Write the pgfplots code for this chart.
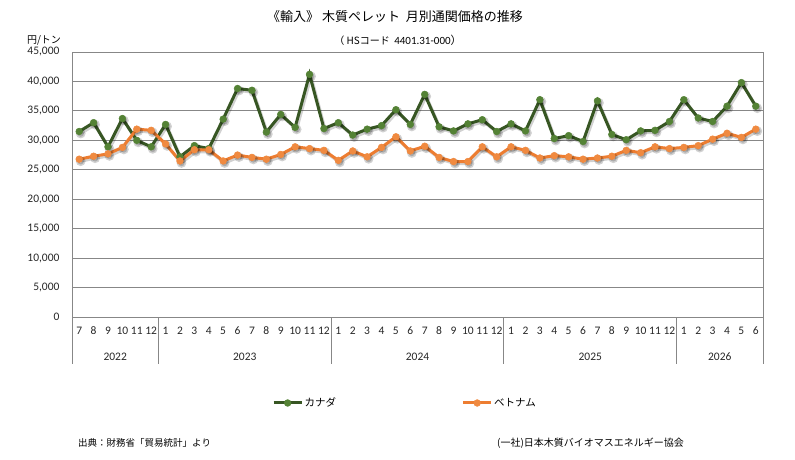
\documentclass[border=0pt]{standalone}
\usepackage{pgfplots}
\pgfplotsset{compat=1.18}
\usepackage{fontspec}
\setmainfont{Carlito}
\newfontfamily\jp{Noto Sans CJK JP}
\definecolor{cgreen}{HTML}{375623}
\definecolor{cgreenm}{HTML}{548235}
\definecolor{corange}{HTML}{ED7D31}
\definecolor{corangem}{HTML}{F08A40}
\definecolor{gridc}{HTML}{878787}

\pgfplotstableread{
x y
0 31500
1 33000
2 28900
3 33700
4 30000
5 28900
6 32700
7 27200
8 29100
9 28600
10 33600
11 38800
12 38500
13 31400
14 34400
15 32200
16 41200
17 32000
18 33000
19 30900
20 31900
21 32500
22 35200
23 32700
24 37800
25 32300
26 31600
27 32800
28 33500
29 31500
30 32800
31 31600
32 36900
33 30300
34 30800
35 29800
36 36700
37 31000
38 30100
39 31600
40 31700
41 33200
42 36900
43 33800
44 33200
45 35800
46 39800
47 35800
}\canada

\pgfplotstableread{
x y
0 26800
1 27300
2 27700
3 28800
4 31900
5 31700
6 29400
7 26500
8 28400
9 28400
10 26500
11 27500
12 27100
13 26800
14 27600
15 28900
16 28600
17 28300
18 26600
19 28200
20 27200
21 28800
22 30600
23 28200
24 29000
25 27100
26 26400
27 26400
28 28900
29 27200
30 28900
31 28300
32 27000
33 27400
34 27200
35 26800
36 27000
37 27300
38 28300
39 27900
40 28900
41 28600
42 28800
43 29100
44 30200
45 31200
46 30500
47 31900
}\vietnam

\begin{document}
\begin{tikzpicture}[x=1pt,y=1pt]
\useasboundingbox (0,0) rectangle (795,459);
\begin{axis}[
  at={(72pt,142pt)}, anchor=south west,
  scale only axis, width=691pt, height=265pt,
  xmin=-0.5, xmax=47.5, ymin=0, ymax=45000,
  xtick={0,...,47},
  xticklabels={7,8,9,10,11,12,1,2,3,4,5,6,7,8,9,10,11,12,1,2,3,4,5,6,7,8,9,10,11,12,1,2,3,4,5,6,7,8,9,10,11,12,1,2,3,4,5,6},
  ytick={0,5000,...,45000},
  scaled y ticks=false,
  /pgf/number format/1000 sep={,},
  /pgf/number format/assume math mode=true,
  major tick length=0pt,
  ymajorgrids,
  grid style={gridc, line width=0.8pt},
  axis line style={gridc, line width=0.8pt},
  tick label style={font=\fontsize{11.5}{13}\selectfont, text=black!85},
  xticklabel style={yshift=-6.5pt},
  yticklabel style={xshift=-9pt},
  clip=false,
  legend columns=2,
  legend style={at={(0.2894,-0.3245)}, anchor=west, draw=none, fill=none,
    inner sep=0pt, font=\jp\fontsize{10.5}{12}\selectfont,
    nodes={inner sep=1.5pt}},
  legend cell align=left,
  legend image code/.code={\draw[mark repeat=2,mark phase=2] plot coordinates {(0pt,0pt) (14pt,0pt) (28pt,0pt)};},
]
% shadows
\addplot[forget plot, draw=black, opacity=0.18, line width=3pt, shift={(1.5pt,-2pt)}, mark=*, mark size=3.3pt, mark options={fill=black, draw=black}] table[x=x,y=y] {\canada};
\addplot[forget plot, draw=black, opacity=0.18, line width=3pt, shift={(1.5pt,-2pt)}, mark=*, mark size=3.3pt, mark options={fill=black, draw=black}] table[x=x,y=y] {\vietnam};
% series
\addplot[cgreen, line width=3pt, mark=*, mark size=3.4pt, mark options={fill=cgreenm, draw=cgreenm, line width=0.5pt}] table[x=x,y=y] {\canada};
\addlegendentry{カナダ\hspace*{124pt}}
\addplot[corange, line width=3pt, mark=*, mark size=3.4pt, mark options={fill=corangem, draw=corangem, line width=0.5pt}] table[x=x,y=y] {\vietnam};
\addlegendentry{ベトナム}
% year separators
\draw[gridc, line width=0.8pt] (axis cs:-0.5,0) -- ([yshift=-47pt]axis cs:-0.5,0);
\draw[gridc, line width=0.8pt] (axis cs:5.5,0) -- ([yshift=-47pt]axis cs:5.5,0);
\draw[gridc, line width=0.8pt] (axis cs:17.5,0) -- ([yshift=-47pt]axis cs:17.5,0);
\draw[gridc, line width=0.8pt] (axis cs:29.5,0) -- ([yshift=-47pt]axis cs:29.5,0);
\draw[gridc, line width=0.8pt] (axis cs:41.5,0) -- ([yshift=-47pt]axis cs:41.5,0);
\draw[gridc, line width=0.8pt] (axis cs:47.5,0) -- ([yshift=-47pt]axis cs:47.5,0);
\node[font=\fontsize{11.5}{13}\selectfont, text=black!85, yshift=-40pt] at (axis cs:2.5,0) {2022};
\node[font=\fontsize{11.5}{13}\selectfont, text=black!85, yshift=-40pt] at (axis cs:11.5,0) {2023};
\node[font=\fontsize{11.5}{13}\selectfont, text=black!85, yshift=-40pt] at (axis cs:23.5,0) {2024};
\node[font=\fontsize{11.5}{13}\selectfont, text=black!85, yshift=-40pt] at (axis cs:35.5,0) {2025};
\node[font=\fontsize{11.5}{13}\selectfont, text=black!85, yshift=-40pt] at (axis cs:44.5,0) {2026};
\end{axis}
% titles
\node[font=\jp\fontsize{13}{15}\selectfont] at (395,442) {《輸入》\ 木質ペレット\ \ 月別通関価格の推移};
\node[font=\jp\fontsize{10}{12}\selectfont] at (398,419) {（\ HSコード\ \ \rmfamily\fontsize{11}{12}\selectfont 4401.31-000\jp）};
\node[font=\jp\fontsize{10}{12}\selectfont] at (44,419) {円/トン};
% footer
\node[font=\jp\fontsize{9.5}{12}\selectfont, anchor=west, inner sep=0pt] at (78,16) {出典：財務省「貿易統計」より};
\node[font=\jp\fontsize{10}{12}\selectfont, anchor=west, inner sep=0pt] at (497,16) {(一社)日本木質バイオマスエネルギー協会};
\end{tikzpicture}
\end{document}
